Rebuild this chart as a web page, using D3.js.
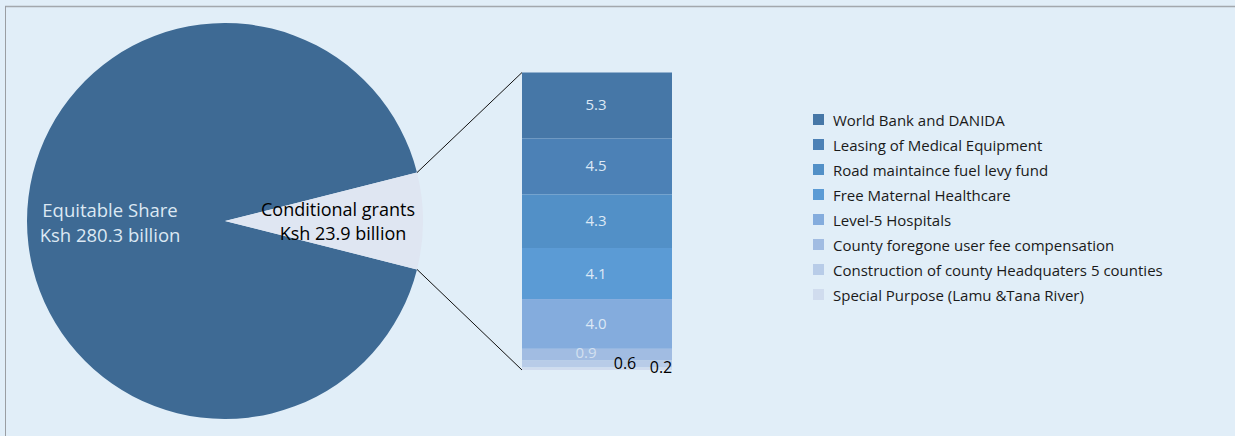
<!DOCTYPE html>
<html>
<head>
<meta charset="utf-8">
<title>Conditional grants</title>
<style>
body {
  margin: 0;
  background: #e1eef8;
  font-family: "Open Sans", "Noto Sans", sans-serif;
}
svg { display: block; }
</style>
</head>
<body>
<div id="vis"></div>
<script src="https://d3js.org/d3.v7.min.js"></script>
<script>

// pie: equitable share vs conditional grants (Ksh billion)
var pieNames = ["Equitable Share", "Conditional grants"];
var pieValues = [280.3, 23.9];
var pieColors = ["#3e6a94", "#dfe6f2"];

// conditional grants breakdown (Ksh billion), top to bottom
var grantNames = [
  "World Bank and DANIDA",
  "Leasing of Medical Equipment",
  "Road maintaince fuel levy fund",
  "Free Maternal Healthcare",
  "Level-5 Hospitals",
  "County foregone user fee compensation",
  "Construction of county Headquaters 5 counties",
  "Special Purpose (Lamu &Tana River)"
];
var grantValues = [5.3, 4.5, 4.3, 4.1, 4.0, 0.9, 0.6, 0.2];
var grantColors = ["#4677a7", "#4c81b6", "#5290c7", "#5b9bd5", "#84acdd", "#a1bce2", "#b8cce8", "#d0dcee"];

var W = 1235, H = 436;

var svg = d3.select("#vis").append("svg")
    .attr("width", W)
    .attr("height", H);

// frame
svg.append("line").attr("x1", 5).attr("x2", W).attr("y1", 6.5).attr("y2", 6.5)
    .attr("stroke", "#a3a8ad").attr("stroke-width", 1.5);
svg.append("line").attr("x1", 5.5).attr("x2", 5.5).attr("y1", 6).attr("y2", H)
    .attr("stroke", "#9a9ea3").attr("stroke-width", 1);

// ---- pie ----
var cx = 225, cy = 221, r = 198;
var total = d3.sum(pieValues);
var small = pieValues[1] / total * 2 * Math.PI;

// rotate so the conditional slice points right
var pie = d3.pie().sort(null)
    .startAngle(Math.PI / 2 + small / 2)
    .endAngle(Math.PI / 2 + small / 2 + 2 * Math.PI);

var arc = d3.arc().innerRadius(0).outerRadius(r);

var pg = svg.append("g").attr("transform", "translate(" + cx + "," + cy + ")");
var arcs = pie(pieValues);
pg.selectAll("path").data(arcs).enter().append("path")
    .attr("d", arc)
    .attr("fill", function(d, i) { return pieColors[i]; });

// labels inside pie
pg.append("text")
    .attr("x", -115).attr("y", -4)
    .attr("text-anchor", "middle")
    .attr("fill", "#dce8f3")
    .style("font-size", "18.5px")
    .selectAll("tspan")
    .data([pieNames[0], "Ksh " + pieValues[0] + " billion"])
    .enter().append("tspan")
    .attr("x", -115)
    .attr("dy", function(d, i) { return i ? 25 : 0; })
    .text(function(d) { return d; });

pg.append("text")
    .attr("x", 113).attr("y", -5)
    .attr("text-anchor", "middle")
    .attr("fill", "#000")
    .style("font-size", "18px")
    .selectAll("tspan")
    .data([pieNames[1], "Ksh " + pieValues[1] + " billion"])
    .enter().append("tspan")
    .attr("x", function(d, i) { return i ? 118 : 113; })
    .attr("dy", function(d, i) { return i ? 23.5 : 0; })
    .text(function(d) { return d; });

// ---- stacked bar ----
var barX = 522, barW = 150, barTop = 72.5, barBottom = 370;
var y = d3.scaleLinear()
    .domain([0, d3.sum(grantValues)])
    .range([barTop, barBottom]);

var stack = [];
var acc = 0;
grantValues.forEach(function(v, i) {
  stack.push({ name: grantNames[i], value: v, y0: acc, y1: acc + v, color: grantColors[i] });
  acc += v;
});

var bg = svg.append("g");
bg.selectAll("rect").data(stack).enter().append("rect")
    .attr("x", barX)
    .attr("width", barW)
    .attr("y", function(d) { return y(d.y0); })
    .attr("height", function(d) { return y(d.y1) - y(d.y0); })
    .attr("fill", function(d) { return d.color; });

// value labels
var labelPos = [
  { dx: 74, dy: 0, fill: "#dce8f5", size: 15 },
  { dx: 74, dy: 0, fill: "#dce8f5", size: 15 },
  { dx: 74, dy: 0, fill: "#dce8f5", size: 15 },
  { dx: 74, dy: 0, fill: "#dce8f5", size: 15 },
  { dx: 74, dy: 0, fill: "#dce8f5", size: 15 },
  { dx: 64, dy: -1.5, fill: "#d3e0f0", size: 15 },
  { dx: 103, dy: 0.5, fill: "#000", size: 16 },
  { dx: 139, dy: -0.5, fill: "#000", size: 16 }
];
bg.selectAll("text").data(stack).enter().append("text")
    .attr("x", function(d, i) { return barX + labelPos[i].dx; })
    .attr("y", function(d, i) { return (y(d.y0) + y(d.y1)) / 2 + 5 + labelPos[i].dy; })
    .attr("text-anchor", "middle")
    .attr("fill", function(d, i) { return labelPos[i].fill; })
    .style("font-size", function(d, i) { return labelPos[i].size + "px"; })
    .text(function(d) { return d.value.toFixed(1); });

// connector lines from pie slice to bar
var a0 = arcs[1].startAngle, a1 = arcs[1].endAngle;
var p0 = [cx + r * Math.sin(a0), cy - r * Math.cos(a0)];
var p1 = [cx + r * Math.sin(a1), cy - r * Math.cos(a1)];
svg.append("line")
    .attr("x1", p0[0]).attr("y1", p0[1]).attr("x2", barX).attr("y2", barTop)
    .attr("stroke", "#111").attr("stroke-width", 1);
svg.append("line")
    .attr("x1", p1[0]).attr("y1", p1[1]).attr("x2", barX).attr("y2", barBottom)
    .attr("stroke", "#111").attr("stroke-width", 1);

// ---- legend ----
var lg = svg.append("g").attr("transform", "translate(813,114)");
var items = lg.selectAll("g").data(stack).enter().append("g")
    .attr("transform", function(d, i) { return "translate(0," + i * 25 + ")"; });
items.append("rect")
    .attr("width", 11).attr("height", 11)
    .attr("fill", function(d) { return d.color; });
items.append("text")
    .attr("x", 20).attr("y", 11.5)
    .attr("fill", "#1a1a1a")
    .style("font-size", "15px")
    .text(function(d) { return d.name; });

</script>
</body>
</html>
